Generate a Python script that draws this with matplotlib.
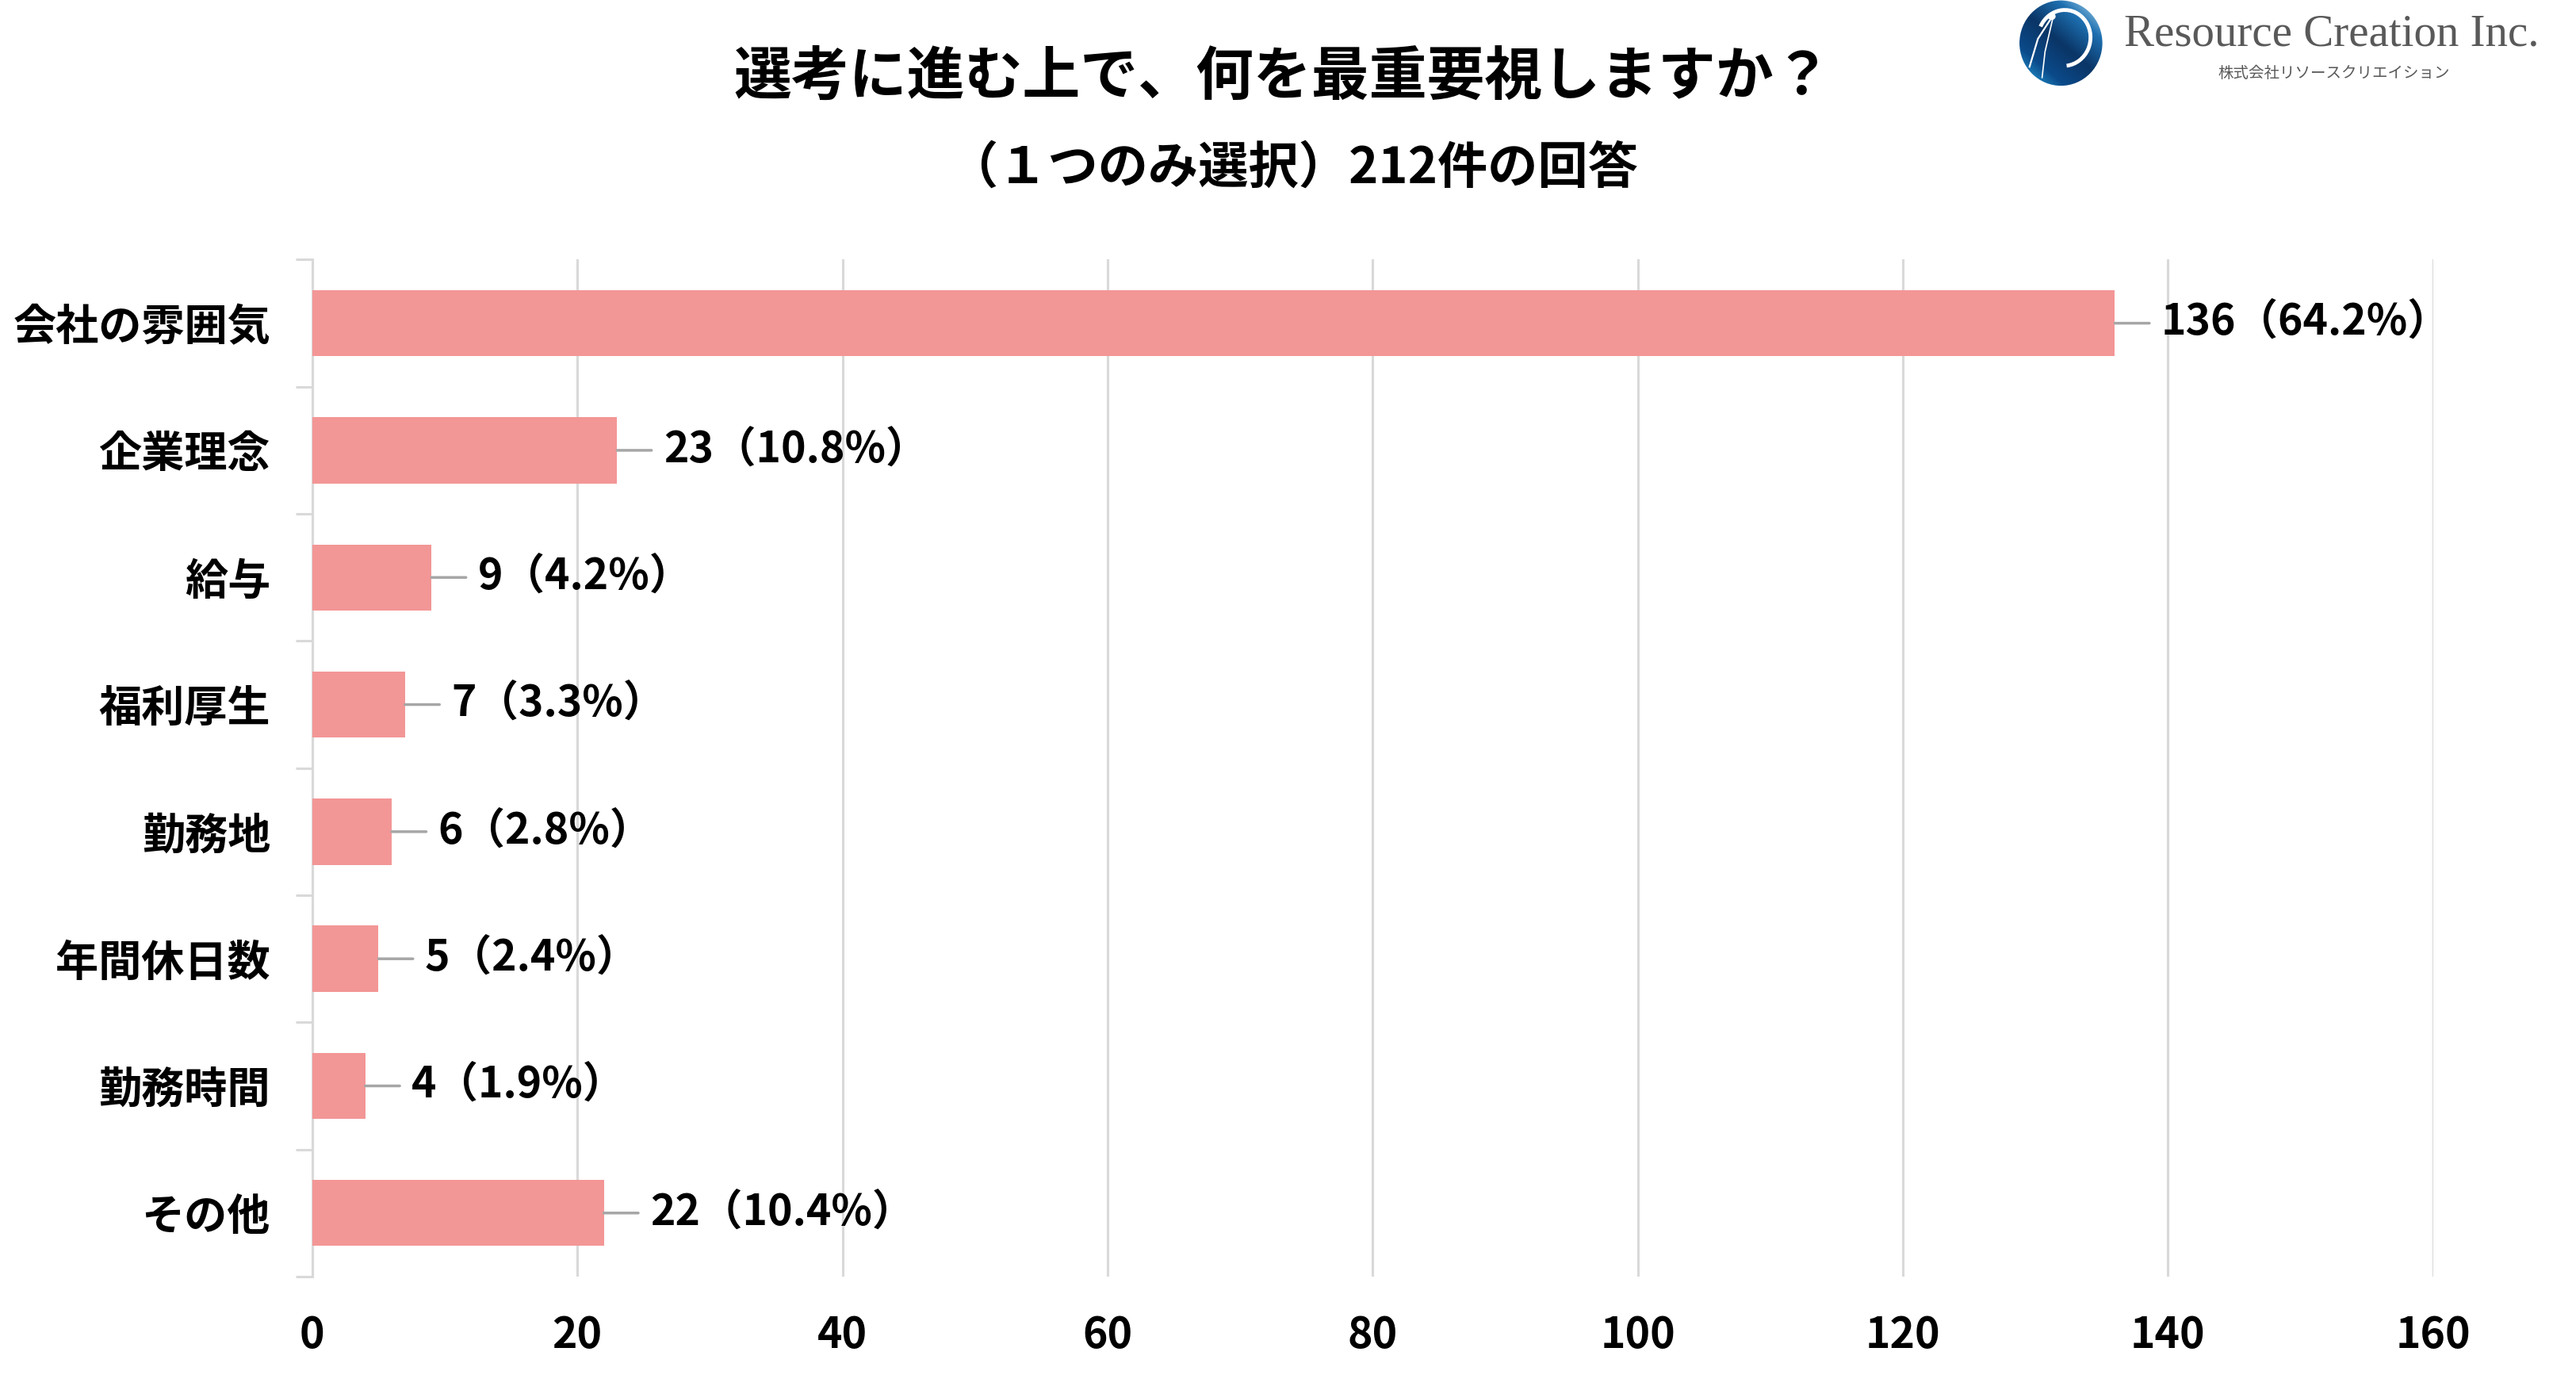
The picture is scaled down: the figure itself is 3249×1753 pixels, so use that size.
import matplotlib
matplotlib.use("Agg")
import matplotlib.pyplot as plt
import numpy as np
from matplotlib.patches import Ellipse, Arc
from matplotlib.colors import LinearSegmentedColormap

plt.rcParams['font.family'] = ['Noto Sans CJK JP', 'DejaVu Sans']

categories = ["会社の雰囲気", "企業理念", "給与", "福利厚生", "勤務地", "年間休日数", "勤務時間", "その他"]
counts = [136, 23, 9, 7, 6, 5, 4, 22]
percents = ["64.2%", "10.8%", "4.2%", "3.3%", "2.8%", "2.4%", "1.9%", "10.4%"]
x_ticks = [0, 20, 40, 60, 80, 100, 120, 140, 160]

title = "選考に進む上で、何を最重要視しますか？"
subtitle = "（１つのみ選択）212件の回答"

bar_color = "#F39696"
grid_color = "#D9D9D9"

fig = plt.figure(figsize=(32.49, 17.53), dpi=100)
ax = fig.add_axes([0.1212, 0.0816, 0.8233, 0.7316])

y = list(range(len(categories)))
ax.barh(y, counts, height=0.52, color=bar_color, zorder=3)
ax.set_ylim(len(categories) - 0.5, -0.5)
ax.set_xlim(0, 160)
ax.set_xticks(x_ticks)
ax.set_xticklabels([str(t) for t in x_ticks], fontsize=38.5, fontweight='bold')
ax.tick_params(axis='x', length=0, pad=34)

ax.set_yticks(y)
ax.set_yticklabels(categories, fontsize=39, fontweight='bold')
ax.tick_params(axis='y', which='major', length=0, pad=38)
ax.set_yticks([i - 0.5 for i in range(len(categories) + 1)], minor=True)
ax.tick_params(axis='y', which='minor', length=15, width=2.2, color=grid_color)

ax.grid(axis='x', color=grid_color, linewidth=2.2, zorder=0)
for s in ['top', 'right', 'bottom']:
    ax.spines[s].set_visible(False)
ax.spines['left'].set_color(grid_color)
ax.spines['left'].set_linewidth(2.2)

for yi, c, p in zip(y, counts, percents):
    ax.annotate("", xy=(c, yi), xytext=(c + 2.6, yi),
                arrowprops=dict(arrowstyle='-', color='#A6A6A6', lw=2.5,
                                shrinkA=0, shrinkB=0), zorder=4)
    ax.text(c + 3.5, yi, f"{c}（{p}）", va='center', ha='left',
            fontsize=38.5, fontweight='bold', color='black', zorder=5)

fig.text(0.498, 0.944, title, ha='center', va='center', fontsize=52.5, fontweight='bold')
fig.text(0.502, 0.879, subtitle, ha='center', va='center', fontsize=45.5, fontweight='bold')

# logo mark
lax = fig.add_axes([0.7838, 0.938, 0.0325, 0.062])
lax.set_xlim(-1, 1)
lax.set_ylim(-1, 1)
lax.axis('off')
cmap = LinearSegmentedColormap.from_list("lg", ["#29B0E8", "#0B4A8A", "#0A3566", "#1D6FB0", "#BFE6F7"])
gx, gy = np.meshgrid(np.linspace(-1, 1, 200), np.linspace(-1, 1, 200))
grad = (gx + gy * 1.2)
im = lax.imshow(grad, extent=(-1, 1, -1, 1), origin='lower', cmap=cmap, zorder=1, aspect='auto')
clip = Ellipse((0, 0), 1.98, 1.98, angle=0, transform=lax.transData, facecolor='none', edgecolor='none')
lax.add_patch(clip)
im.set_clip_path(clip)
lax.add_patch(Arc((0.08, 0.12), 1.25, 1.3, angle=-15, theta1=-70, theta2=170,
                  color='white', lw=3.5, zorder=3))
lax.add_patch(Ellipse((-0.22, 0.62), 0.16, 0.14, color='white', zorder=3))
lax.plot([-0.25, -0.55, -0.75], [0.55, 0.1, -0.55], color='white', lw=1.6, zorder=3)
lax.plot([-0.2, -0.38, -0.45], [0.55, -0.2, -0.8], color='white', lw=1.2, zorder=3)

fig.text(0.8246, 0.975, "Resource Creation Inc.", ha='left', va='center',
         fontsize=41, color='#595959', family=['Liberation Serif'])
fig.text(0.861, 0.947, "株式会社リソースクリエイション", ha='left', va='center',
         fontsize=14, color='#595959')

fig.savefig("out.png", dpi=100)
